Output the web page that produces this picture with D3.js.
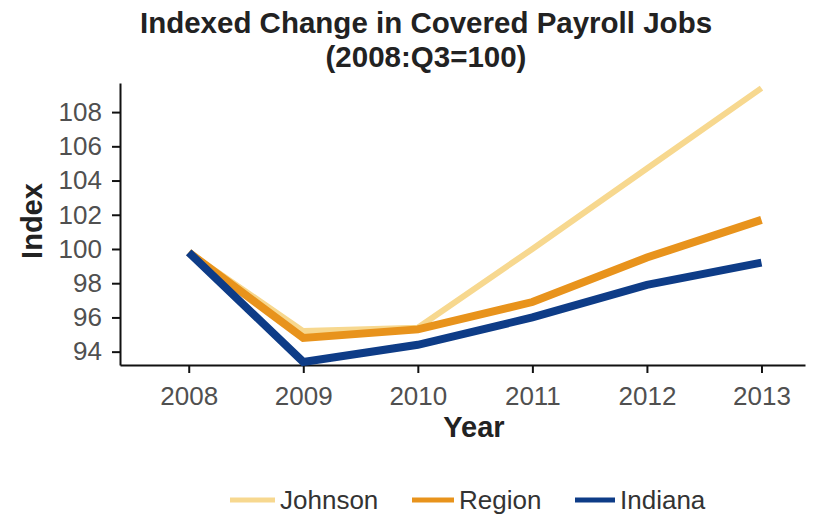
<!DOCTYPE html>
<html><head><meta charset="utf-8">
<script src="https://cdn.jsdelivr.net/npm/d3@7"></script>
<style>body{margin:0;background:#fff}svg{display:block}text{font-family:"Liberation Sans",Arial,sans-serif}</style>
</head><body><svg id="c" width="820" height="517"></svg>
<script>
const years = [2008, 2009, 2010, 2011, 2012, 2013];
const johnson = [99.8, 95.2, 95.4, 100.0, 104.7, 109.4];
const region = [99.8, 94.8, 95.3, 96.9, 99.5, 101.7];
const indiana = [99.8, 93.4, 94.4, 96.0, 97.9, 99.2];
const yTicks = [94, 96, 98, 100, 102, 104, 106, 108];
const seriesNames = ["Johnson", "Region", "Indiana"];
const colors = ["#f7d88f", "#e8931c", "#0e3c87"];

const svg = d3.select("#c");
const L = 120, R = 805, T = 83, B = 365;
const x = d3.scaleLinear().domain([2007.4, 2013.38]).range([L, R]);
const y = d3.scaleLinear().domain([93.22, 109.7]).range([B, T]);

// title
svg.append("text").attr("x", 426).attr("y", 33).attr("text-anchor", "middle")
  .attr("font-size", 29.5).attr("font-weight", "bold").attr("fill", "#222")
  .text("Indexed Change in Covered Payroll Jobs");
svg.append("text").attr("x", 426).attr("y", 67).attr("text-anchor", "middle")
  .attr("font-size", 29.5).attr("font-weight", "bold").attr("fill", "#222")
  .text("(2008:Q3=100)");

// axes
const yAx = svg.append("g").attr("transform", `translate(${L},0)`)
  .call(d3.axisLeft(y).tickValues(yTicks).tickSize(8).tickPadding(10).tickSizeOuter(0));
const xAx = svg.append("g").attr("transform", `translate(0,${B})`)
  .call(d3.axisBottom(x).tickValues(years).tickFormat(d3.format("d")).tickSize(8).tickPadding(14).tickSizeOuter(0));
[yAx, xAx].forEach(g => {
  g.select(".domain").attr("stroke", "#111").attr("stroke-width", 2);
  g.selectAll(".tick line").attr("stroke", "#111").attr("stroke-width", 2);
  g.selectAll(".tick text").attr("font-size", 26).attr("fill", "#505050")
    .attr("font-family", "\"Liberation Sans\",Arial,sans-serif");
});

// axis labels
svg.append("text").attr("transform", "translate(42,221) rotate(-90)").attr("text-anchor", "middle")
  .attr("font-size", 29).attr("font-weight", "bold").attr("fill", "#222").text("Index");
svg.append("text").attr("x", 474).attr("y", 437).attr("text-anchor", "middle")
  .attr("font-size", 29).attr("font-weight", "bold").attr("fill", "#222").text("Year");

// lines
const data = [johnson, region, indiana];
const line = d3.line().x((d, i) => x(years[i])).y(d => y(d));
data.forEach((s, k) => {
  svg.append("path").attr("d", line(s)).attr("fill", "none")
    .attr("stroke", colors[k]).attr("stroke-width", k === 0 ? 6 : 8)
    .attr("stroke-linejoin", "miter").attr("stroke-linecap", "butt");
});

// legend
const legX = [230, 412, 575];
const legW = [45, 42, 40];
seriesNames.forEach((n, k) => {
  svg.append("line").attr("x1", legX[k]).attr("x2", legX[k] + legW[k]).attr("y1", 500).attr("y2", 500)
    .attr("stroke", colors[k]).attr("stroke-width", 5);
  svg.append("text").attr("x", legX[k] + legW[k] + 5).attr("y", 509).attr("font-size", 26).attr("fill", "#333").text(n);
});
</script></body></html>
